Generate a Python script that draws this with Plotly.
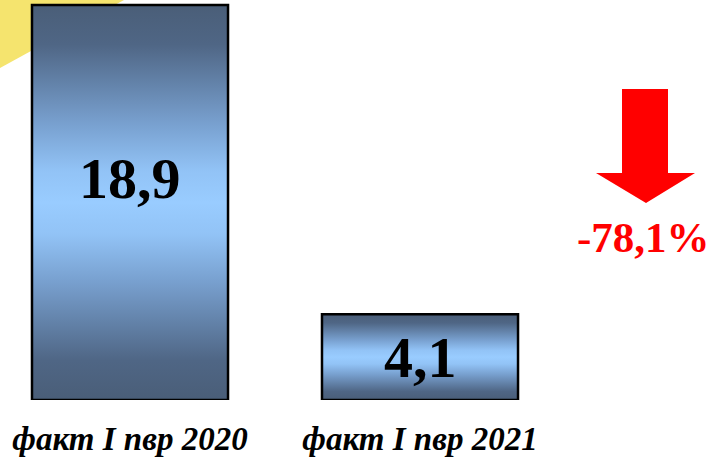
import plotly.graph_objects as go

categories = ["факт I пвр 2020", "факт I пвр 2021"]
values = [18.9, 4.1]
value_labels = ["18,9", "4,1"]
change_label = "-78,1%"

GRADIENT = [[0.0, "#4a5e78"], [0.1, "#4f6685"], [0.3, "#78a0cf"],
            [0.42, "#92c3f6"], [0.5, "#99ccff"], [0.58, "#92c3f6"],
            [0.7, "#78a0cf"], [0.9, "#4f6685"], [1.0, "#4a5e78"]]
BAR_W = 0.676

fig = go.Figure()

for i, v in enumerate(values):
    x0, x1 = i - BAR_W / 2, i + BAR_W / 2
    fig.add_trace(go.Scatter(
        x=[x0, x1, x1, x0, x0],
        y=[0, 0, v, v, 0],
        mode="lines",
        fill="toself",
        fillgradient=dict(type="vertical", colorscale=GRADIENT),
        line=dict(color="black", width=2.5),
        hoverinfo="skip",
        showlegend=False,
    ))

# value labels (the tall bar's label sits a little above its centre, as in the original)
label_lift = [24, 0]
for i, (v, lab) in enumerate(zip(values, value_labels)):
    fig.add_annotation(x=i, y=v / 2, xref="x", yref="y", text=lab, showarrow=False,
                       yshift=label_lift[i], xanchor="center", yanchor="middle",
                       font=dict(family="Liberation Serif", size=58, color="black", weight="bold"))

W, H_PLOT = 715, 400
def px(x):
    return x / W
def py(y):
    return (H_PLOT - y) / H_PLOT

# yellow decorative corner
fig.add_shape(type="path", xref="paper", yref="paper", layer="below",
              path=f"M {px(0)} {py(0)} L {px(124)} {py(0)} L {px(0)} {py(68)} Z",
              fillcolor="#f5e46e", line=dict(width=0))

# red down arrow
arrow = [(622, 89), (668, 89), (668, 173), (695, 173), (646, 203), (596, 173), (622, 173)]
path = "M " + " L ".join(f"{px(a)} {py(b)}" for a, b in arrow) + " Z"
fig.add_shape(type="path", xref="paper", yref="paper", path=path,
              fillcolor="#ff0000", line=dict(width=0))

fig.add_annotation(xref="paper", yref="paper", x=px(643), y=py(237),
                   text=change_label, showarrow=False,
                   font=dict(family="Liberation Serif", size=43, color="#ff0000", weight="bold"),
                   xanchor="center", yanchor="middle")

fig.update_xaxes(range=[-0.4483, 2.0172], tickvals=list(range(len(categories))),
                 ticktext=categories, showgrid=False, zeroline=False, showline=False,
                 ticks="", ticklabelstandoff=16,
                 tickfont=dict(family="Liberation Serif", size=33, color="black",
                               weight="bold", style="italic"))
fig.update_yaxes(range=[0, 400 / 20.9], visible=False, showgrid=False, zeroline=False)

fig.update_layout(width=715, height=457, margin=dict(l=0, r=0, t=0, b=57),
                  plot_bgcolor="white", paper_bgcolor="white", showlegend=False)

fig.write_html("out.html", config={"displayModeBar": False},
               post_script="document.body.style.margin='0';")
